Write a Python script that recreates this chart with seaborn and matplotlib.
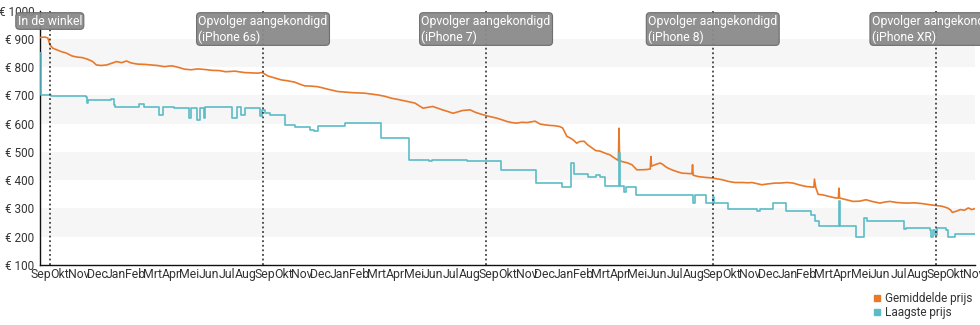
import matplotlib
matplotlib.use("Agg")
import matplotlib.pyplot as plt
import matplotlib.dates as mdates
import seaborn as sns
import pandas as pd
from matplotlib.lines import Line2D

# ---------------- data ----------------
avg_dates = ['2014-09-10','2014-09-18','2014-09-23','2014-09-26','2014-10-01','2014-10-09','2014-10-15','2014-10-23',
 '2014-11-01','2014-11-09','2014-11-18','2014-11-27','2014-12-05','2014-12-11','2014-12-19','2014-12-28','2015-01-05',
 '2015-01-13','2015-01-21','2015-01-29','2015-02-06','2015-02-16','2015-02-28','2015-03-11','2015-03-21','2015-04-01',
 '2015-04-13','2015-04-23','2015-05-04','2015-05-15','2015-05-25','2015-06-06','2015-06-17','2015-06-30','2015-07-10',
 '2015-07-25','2015-08-10','2015-08-21','2015-08-31','2015-09-08','2015-09-17','2015-09-28','2015-10-09','2015-10-19',
 '2015-10-31','2015-11-08','2015-11-16','2015-11-27','2015-12-07','2015-12-15','2015-12-24','2016-01-01','2016-01-09',
 '2016-01-20','2016-02-01','2016-02-11','2016-02-22','2016-03-04','2016-03-14','2016-03-26','2016-04-06','2016-04-16',
 '2016-04-27','2016-05-05','2016-05-14','2016-05-22','2016-05-27','2016-06-04','2016-06-12','2016-06-20','2016-06-28',
 '2016-07-07','2016-07-15','2016-07-23','2016-07-31','2016-08-12','2016-08-21','2016-08-31','2016-09-08','2016-09-16',
 '2016-09-24','2016-10-03','2016-10-11','2016-10-19','2016-10-27','2016-11-04','2016-11-13','2016-11-21','2016-11-26',
 '2016-12-04','2016-12-12','2016-12-20','2016-12-28','2017-01-05','2017-01-10','2017-01-17','2017-01-22','2017-01-27',
 '2017-02-02','2017-02-07','2017-02-14','2017-02-20','2017-02-27','2017-03-05','2017-03-12','2017-03-20','2017-03-28',
 '2017-04-05','2017-04-11','2017-04-12','2017-04-13','2017-04-17','2017-04-25','2017-05-03','2017-05-11','2017-05-19',
 '2017-05-28','2017-06-02','2017-06-03','2017-06-04','2017-06-10','2017-06-18','2017-06-21','2017-06-29','2017-07-07',
 '2017-07-16','2017-07-24','2017-08-01','2017-08-09','2017-08-10','2017-08-11','2017-08-19','2017-08-31','2017-09-11',
 '2017-09-19','2017-09-27','2017-10-07','2017-10-18','2017-10-30','2017-11-09','2017-11-15','2017-11-23','2017-12-01',
 '2017-12-11','2017-12-23','2017-12-31','2018-01-11','2018-01-21','2018-02-01','2018-02-11','2018-02-21','2018-02-24',
 '2018-02-25','2018-02-27','2018-03-03','2018-03-11','2018-03-22','2018-04-01','2018-04-05','2018-04-06','2018-04-07',
 '2018-04-18','2018-04-29','2018-05-10','2018-05-20','2018-05-30','2018-06-12','2018-06-20','2018-06-28','2018-07-10',
 '2018-07-25','2018-08-08','2018-08-21','2018-09-02','2018-09-13','2018-09-21','2018-09-30','2018-10-05','2018-10-08',
 '2018-10-14','2018-10-21','2018-10-28','2018-11-03','2018-11-09','2018-11-14']
avg_prices = [905,907,903,880,867,860,855,850,
 840,836,834,828,820,808,806,808,814,
 820,816,822,815,811,810,808,806,802,
 805,800,793,791,794,792,789,788,784,
 786,781,780,779,781,769,762,755,752,
 747,740,734,733,731,727,722,718,714,
 712,710,709,708,705,702,697,690,686,
 681,677,673,662,655,658,661,655,649,
 643,637,642,647,649,640,633,628,624,
 620,614,608,604,602,605,604,607,609,
 599,596,594,593,590,585,555,550,543,
 531,537,538,525,514,505,503,496,490,
 478,470,584,470,466,462,455,437,437,
 438,440,484,450,455,461,458,445,437,
 430,425,424,423,455,418,413,410,408,
 405,402,396,392,392,391,392,388,384,
 387,390,390,392,390,383,378,376,375,
 404,375,350,348,342,337,337,372,337,
 331,325,326,331,325,319,323,325,321,
 319,320,317,313,310,308,302,295,286,
 290,296,294,302,296,300]

low_dates = ['2014-09-10','2014-09-11','2014-09-28','2014-11-24','2014-11-25','2014-11-28','2015-01-04','2015-01-08',
 '2015-01-11','2015-02-18','2015-02-26','2015-03-23','2015-03-29','2015-04-16','2015-05-11','2015-05-14','2015-05-25',
 '2015-05-29','2015-06-04','2015-06-07','2015-07-20','2015-07-28','2015-08-04','2015-08-10','2015-09-04','2015-09-08',
 '2015-09-13','2015-09-20','2015-10-15','2015-10-31','2015-11-25','2015-12-01','2015-12-07','2016-01-20','2016-03-20',
 '2016-05-05','2016-06-06','2016-06-11','2016-08-07','2016-10-01','2016-11-28','2017-01-09','2017-01-24','2017-01-29',
 '2017-02-20','2017-03-05','2017-03-12','2017-03-20','2017-04-12','2017-04-13','2017-04-20','2017-04-23','2017-05-10',
 '2017-08-11','2017-08-14','2017-09-01','2017-09-13','2017-09-14','2017-10-07','2017-11-23','2017-11-28','2017-12-19',
 '2018-01-10','2018-02-19','2018-02-26','2018-03-05','2018-04-06','2018-04-07','2018-05-04','2018-05-17','2018-05-22',
 '2018-07-21','2018-07-25','2018-09-02','2018-09-04','2018-09-07','2018-09-10','2018-09-13','2018-09-28','2018-10-01',
 '2018-10-13','2018-11-14']
low_prices = [850,702,697,694,673,684,687,667,
 659,670,659,631,659,655,620,655,614,
 655,620,659,620,659,631,655,626,649,
 637,631,596,590,578,573,593,602,549,
 472,467,472,469,437,390,376,461,422,
 411,419,413,378,496,378,360,376,349,
 319,349,319,340,319,299,290,299,319,
 290,278,254,237,325,237,199,266,254,
 227,231,225,199,225,205,231,225,199,
 210,210]

event_dates = ['2014-09-26', '2015-09-09', '2016-09-07', '2017-09-12', '2018-09-12']
event_labels = ['In de winkel',
                'Opvolger aangekondigd\n(iPhone 6s)',
                'Opvolger aangekondigd\n(iPhone 7)',
                'Opvolger aangekondigd\n(iPhone 8)',
                'Opvolger aangekondigd\n(iPhone XR)']

month_names = ['Jan', 'Feb', 'Mrt', 'Apr', 'Mei', 'Jun', 'Jul', 'Aug', 'Sep', 'Okt', 'Nov', 'Dec']
y_ticks = [100, 200, 300, 400, 500, 600, 700, 800, 900, 1000]
series_names = ['Gemiddelde prijs', 'Laagste prijs']

# ---------------- style ----------------
sns.set_style("white")
plt.rcParams['font.family'] = ['Roboto', 'DejaVu Sans']
ORANGE = '#e8792b'
TEAL = '#5bbcc6'
TXT = '#333333'

avg_df = pd.DataFrame({'date': pd.to_datetime(avg_dates), 'price': avg_prices})
low_df = pd.DataFrame({'date': pd.to_datetime(low_dates), 'price': low_prices})

fig = plt.figure(figsize=(9.8, 3.25), dpi=100)
ax = fig.add_axes([40/980, 60/325, 935/980, 254.3/325])

# background bands
for lo in [200, 400, 600, 800]:
    ax.axhspan(lo, lo + 100, color='#f6f6f6', zorder=0, lw=0)

sns.lineplot(data=avg_df, x='date', y='price', ax=ax, color=ORANGE, lw=1.2,
             estimator=None, zorder=3)
sns.lineplot(data=low_df, x='date', y='price', ax=ax, color=TEAL, lw=1.2,
             estimator=None, drawstyle='steps-post', zorder=3)

ax.set_xlim(pd.Timestamp('2014-09-10'), pd.Timestamp('2018-11-14'))
ax.set_ylim(100, 1000)

# event lines and labels
for d, lab in zip(event_dates, event_labels):
    dt = pd.Timestamp(d)
    ax.axvline(dt, color='#222222', ls=(0, (1.2, 1.8)), lw=1.1, zorder=4)
    ax.text(dt, 0.985, lab, transform=ax.get_xaxis_transform(), ha='center', va='top',
            multialignment='left',
            color='white', fontsize=8.8, linespacing=1.25, zorder=6, clip_on=False,
            bbox=dict(boxstyle='round,pad=0.15,rounding_size=0.3', fc='#8a8a8a', ec='#6a6a6a',
                      lw=0.8, alpha=0.95))

# axes styling
ax.set_xlabel('')
ax.set_ylabel('')
for s in ['top', 'right']:
    ax.spines[s].set_visible(False)
for s in ['left', 'bottom']:
    ax.spines[s].set_color('#111111')
    ax.spines[s].set_linewidth(1.0)

ax.set_yticks(y_ticks)
ax.set_yticklabels([f'€ {v}' for v in y_ticks])
ax.tick_params(axis='y', direction='out', length=3, width=1, color='#111111',
               labelsize=8.5, labelcolor=TXT, pad=1)

tick_pos = [pd.Timestamp(y, m, 12) for y in range(2014, 2019) for m in range(1, 13)
            if pd.Timestamp('2014-09-01') <= pd.Timestamp(y, m, 12) <= pd.Timestamp('2018-11-15')]
ax.set_xticks(tick_pos)
ax.set_xticklabels([month_names[t.month - 1] for t in tick_pos])
ax.tick_params(axis='x', direction='inout', length=5, width=1, color='#111111',
               labelsize=8.8, labelcolor=TXT, pad=0)
ax.grid(False)

# legend
handles = [Line2D([], [], marker='s', color='none', markerfacecolor=c, markeredgecolor=c,
                  markersize=5) for c in [ORANGE, TEAL]]
fig.legend(handles, series_names, loc='upper left', bbox_to_anchor=(868/980, 1 - 286/325),
           frameon=False, fontsize=8.5, handlelength=0.6, handletextpad=0.3,
           labelspacing=0.1, borderpad=0, labelcolor=TXT)

fig.savefig('out.png', dpi=100)
